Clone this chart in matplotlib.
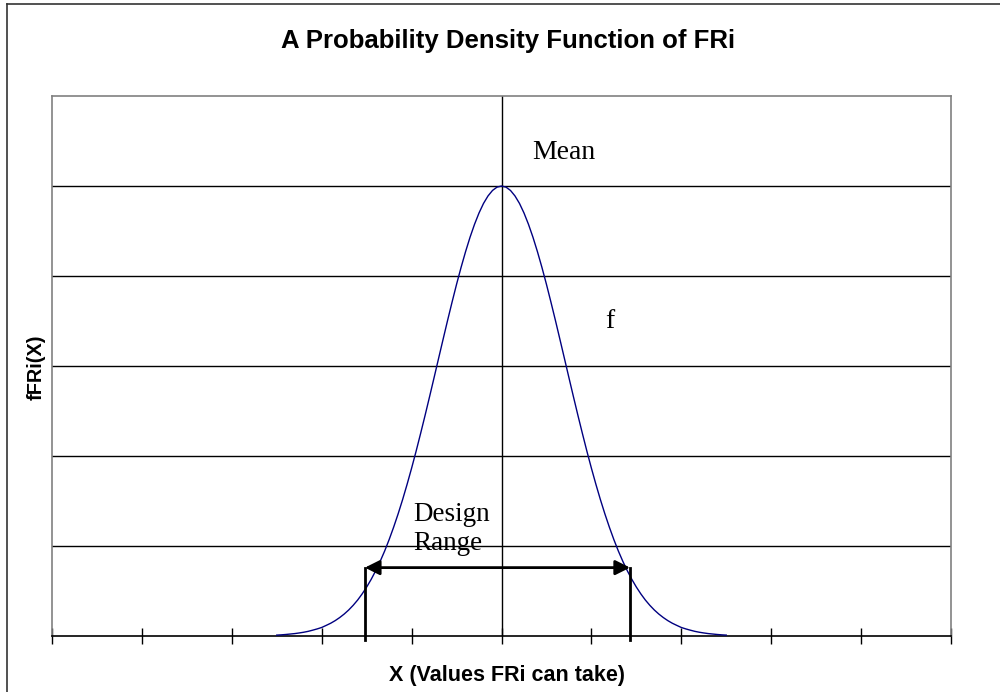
import matplotlib.pyplot as plt
from matplotlib.lines import Line2D

# density curve, read point by point (x in tick units, y in gridline units)
x_vals = [-2.5, -2.45, -2.4, -2.35, -2.3, -2.25, -2.2, -2.15, -2.1, -2.05,
          -2.0, -1.95, -1.9, -1.85, -1.8, -1.75, -1.7, -1.65, -1.6, -1.55,
          -1.5, -1.45, -1.4, -1.35, -1.3, -1.25, -1.2, -1.15, -1.1, -1.05,
          -1.0, -0.95, -0.9, -0.85, -0.8, -0.75, -0.7, -0.65, -0.6, -0.55,
          -0.5, -0.45, -0.4, -0.35, -0.3, -0.25, -0.2, -0.15, -0.1, -0.05,
          0.0,
          0.05, 0.1, 0.15, 0.2, 0.25, 0.3, 0.35, 0.4, 0.45, 0.5,
          0.55, 0.6, 0.65, 0.7, 0.75, 0.8, 0.85, 0.9, 0.95, 1.0,
          1.05, 1.1, 1.15, 1.2, 1.25, 1.3, 1.35, 1.4, 1.45, 1.5,
          1.55, 1.6, 1.65, 1.7, 1.75, 1.8, 1.85, 1.9, 1.95, 2.0,
          2.05, 2.1, 2.15, 2.2, 2.25, 2.3, 2.35, 2.4, 2.45, 2.5]
f_vals = [0.01, 0.013, 0.017, 0.022, 0.027, 0.034, 0.042, 0.052, 0.065, 0.079,
          0.095, 0.118, 0.142, 0.171, 0.205, 0.244, 0.289, 0.341, 0.400, 0.468,
          0.544, 0.629, 0.724, 0.829, 0.944, 1.071, 1.209, 1.357, 1.516, 1.686,
          1.865, 2.053, 2.250, 2.452, 2.660, 2.871, 3.084, 3.296, 3.506, 3.710,
          3.908, 4.095, 4.270, 4.431, 4.575, 4.701, 4.807, 4.890, 4.951, 4.988,
          5.000,
          4.988, 4.951, 4.890, 4.807, 4.701, 4.575, 4.431, 4.270, 4.095, 3.908,
          3.710, 3.506, 3.296, 3.084, 2.871, 2.660, 2.452, 2.250, 2.053, 1.865,
          1.686, 1.516, 1.357, 1.209, 1.071, 0.944, 0.829, 0.724, 0.629, 0.544,
          0.468, 0.400, 0.341, 0.289, 0.244, 0.205, 0.171, 0.142, 0.118, 0.095,
          0.079, 0.065, 0.052, 0.042, 0.034, 0.027, 0.022, 0.017, 0.013, 0.01]

x_ticks = [-5, -4, -3, -2, -1, 0, 1, 2, 3, 4, 5]
grid_levels = [1, 2, 3, 4, 5]

# design range limits and arrow height
range_lo = -1.52
range_hi = 1.43
arrow_y = 0.76

fig = plt.figure(figsize=(10, 6.92), dpi=100)
ax = fig.add_axes([0.052, 0.0809, 0.899, 0.7803])
ax.set_xlim(-5, 5)
ax.set_ylim(0, 6)

for g in grid_levels:
    ax.axhline(g, color='black', lw=1.0, zorder=1)
ax.axvline(0, color='black', lw=1.0, zorder=1)

ax.plot(x_vals, f_vals, color='#000080', lw=1.0, zorder=3)

for s in ['left', 'top', 'right']:
    ax.spines[s].set_color('#808080')
    ax.spines[s].set_linewidth(1.2)
ax.spines['bottom'].set_color('black')
ax.spines['bottom'].set_linewidth(1.2)

ax.set_xticks(x_ticks)
ax.set_yticks([])
ax.tick_params(axis='x', direction='inout', length=12, width=1,
               color='black', labelbottom=False)

# design range: two uprights and a double-headed arrow
for xr in [range_lo, range_hi]:
    ax.plot([xr, xr], [-0.04, arrow_y], color='black', lw=2,
            clip_on=False, zorder=4)
ax.annotate('', xy=(range_lo, arrow_y), xytext=(range_hi, arrow_y),
            arrowprops=dict(arrowstyle='<|-|>', color='black', lw=2,
                            mutation_scale=22, shrinkA=0, shrinkB=0),
            zorder=4)

serif = 'Liberation Serif'
ax.text(0.69, 5.37, 'Mean', family=serif, fontsize=20, ha='center', va='center')
ax.text(1.21, 3.5, 'f', family=serif, fontsize=20, ha='center', va='center')
ax.text(-0.98, 1.275, 'Design', family=serif, fontsize=19.5,
        ha='left', va='baseline')
ax.text(-0.98, 0.955, 'Range', family=serif, fontsize=19.5,
        ha='left', va='baseline')

sans = 'Liberation Sans'
fig.text(0.508, 1 - 41 / 692, 'A Probability Density Function of FRi',
         family=sans, fontweight='bold', fontsize=18.5, ha='center', va='center')
fig.text(0.507, 1 - 675 / 692, 'X (Values FRi can take)', family=sans,
         fontweight='bold', fontsize=15.5, ha='center', va='center')
fig.text(0.036, 1 - 367 / 692, 'fFRi(X)', family=sans, fontweight='bold',
         fontsize=14.3, ha='center', va='center', rotation=90)

# outer chart frame
fig.add_artist(Line2D([0.007, 0.007], [0, 1 - 4 / 692], color='#333333', lw=1.2))
fig.add_artist(Line2D([0.007, 1], [1 - 4 / 692, 1 - 4 / 692], color='#333333', lw=1.2))

fig.savefig('out.png', dpi=100)
